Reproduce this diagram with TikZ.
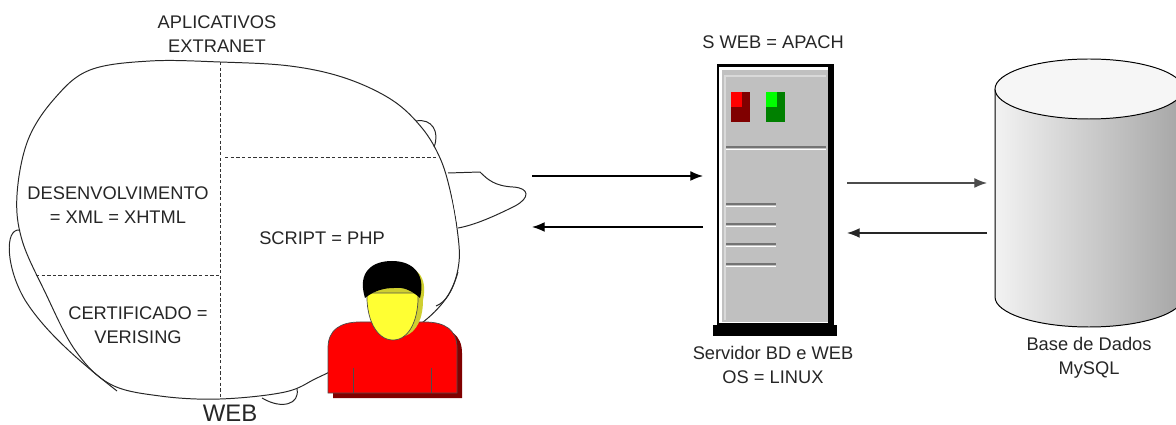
\documentclass[tikz,border=0pt]{standalone}
\usepackage{fontspec}
\setmainfont{Liberation Sans}
\usetikzlibrary{arrows.meta}

\definecolor{shirt}{HTML}{FF0000}
\definecolor{shirtdark}{HTML}{800000}
\definecolor{skin}{HTML}{FFFF33}
\definecolor{skindark}{HTML}{CFCF30}
\definecolor{case}{HTML}{C0C0C0}
\definecolor{ledred}{HTML}{FF0000}
\definecolor{leddarkred}{HTML}{800000}
\definecolor{ledgreen}{HTML}{00FF00}
\definecolor{leddarkgreen}{HTML}{008000}

\tikzset{
  headline/.style={draw=black!85, line width=0.7pt},
  divider/.style={draw=black!80, line width=0.7pt, dash pattern=on 2.4pt off 1.6pt},
  txt/.style={font=\fontsize{13}{17}\selectfont, align=center, inner sep=0pt, text=black!85},
  flow/.style={-{Latex[length=9pt,width=7pt]}, line width=0.9pt},
  vent/.style={line width=1pt, draw=black!55},
}

\begin{document}
\begin{tikzpicture}[x=0.025cm, y=-0.025cm]
  \useasboundingbox (0,0) rectangle (1176,425);

  % head seen from above
  \draw[headline, fill=white] plot[smooth cycle, tension=0.6] coordinates {
    (90,70) (150,61) (220,62) (290,66) (345,78) (392,100) (422,128)
    (440,158) (450,190) (457,228) (459,262) (450,292) (428,318)
    (395,340) (350,362) (317,378) (285,392) (220,399) (160,396)
    (110,384) (75,350) (45,292) (22,240) (17,195) (28,140) (55,98)};
  % ears and nose
  \draw[headline] (20,230) .. controls (4,228) and (6,268) .. (25,300)
    .. controls (45,332) and (80,362) .. (117,391);
  \draw[headline] (416,121) .. controls (432,118) and (440,132) .. (434,147);
  \draw[headline] (458,272) .. controls (452,292) and (446,302) .. (436,306);
  \draw[headline] (262,398) .. controls (282,410) and (300,404) .. (297,389);
  \draw[headline, fill=white] (448,173) -- (480,172) .. controls (488,180) and (495,186) .. (513,187)
    .. controls (530,188) and (530,198) .. (515,206)
    .. controls (495,216) and (475,225) .. (458,228);

  % regions
  \draw[divider] (220,62) -- (220,399);
  \draw[divider] (225,157) -- (436,157);
  \draw[divider] (36,275) -- (220,275);

  \node[txt] (apps) at (217,34) {APLICATIVOS\\EXTRANET};
  \node[txt] (devel) at (118,205) {DESENVOLVIMENTO\\= XML = XHTML};
  \node[txt] (script) at (322,238) {SCRIPT = PHP};
  \node[txt] (cert) at (138,325) {CERTIFICADO =\\VERISING};
  \node[txt, font=\fontsize{17}{20}\selectfont] (web) at (230,413) {WEB};

  % user
  \fill[shirtdark] (333,398) -- (333,353) .. controls (333,335) and (345,327) .. (365,327)
    -- (430,327) .. controls (450,327) and (462,335) .. (462,353) -- (462,398) -- cycle;
  \filldraw[fill=shirt, draw=black!70, line width=0.5pt] (328,393) -- (328,348)
    .. controls (328,330) and (340,322) .. (360,322)
    -- (425,322) .. controls (445,322) and (457,330) .. (457,348) -- (457,393) -- cycle;
  \draw[black!70, line width=0.5pt] (353,368) -- (353,393);
  \draw[black!70, line width=0.5pt] (431,368) -- (431,393);
  \fill[skindark] (372,290) .. controls (365,268) and (378,265) .. (397,265)
    .. controls (417,265) and (428,277) .. (423,300)
    .. controls (423,318) and (417,332) .. (405,336) -- cycle;
  \filldraw[fill=skin, draw=black!70, line width=0.5pt] (367,293)
    .. controls (366,318) and (376,340) .. (393,340)
    .. controls (410,340) and (419,318) .. (418,293) -- cycle;
  \fill[black] (365,298) .. controls (357,272) and (372,261) .. (392,261)
    .. controls (413,261) and (426,274) .. (420,298)
    .. controls (410,289) and (402,287) .. (394,288)
    .. controls (385,288) and (375,290) .. (365,298) -- cycle;

  % server
  \fill[black] (713,325) rectangle (837,336);
  \fill[black] (717,64) rectangle (834,325);
  \fill[white] (719,67) rectangle (828,323);
  \fill[case] (722,70) rectangle (828,322);
  \fill[case!60!white] (724,75) rectangle (826,320);
  \fill[case] (726,77) rectangle (826,320);
  \fill[leddarkred] (731,92) rectangle (750,122);
  \fill[ledred] (731,92) rectangle (742,107);
  \fill[leddarkgreen] (766,92) rectangle (785,122);
  \fill[ledgreen] (766,92) rectangle (777,107);
  \draw[vent] (726,147) -- (826,147);
  \draw[white, line width=1pt] (726,149.5) -- (826,149.5);
  \foreach \y in {204,224,244,264} {
    \draw[vent] (726,\y) -- (776,\y);
    \draw[white, line width=1pt] (726,\y+2.5) -- (776,\y+2.5);
  }
  \node[txt] (apach) at (773,42) {S WEB = APACH};
  \node[txt] (srvlbl) at (773,365) {Servidor BD e WEB\\OS = LINUX};

  % database
  \shade[left color=gray!10, right color=gray!70] (995,89) -- (995,297)
    arc[start angle=180, end angle=0, x radius=94, y radius=30] -- (1183,89)
    arc[start angle=0, end angle=180, x radius=94, y radius=30] -- cycle;
  \draw[line width=0.7pt] (995,89) -- (995,297)
    arc[start angle=180, end angle=0, x radius=94, y radius=30] -- (1183,89);
  \filldraw[fill=gray!7, line width=0.7pt] (1089,89) ellipse[x radius=94, y radius=30];
  \node[txt] (dblbl) at (1089,358) {Base de Dados\\MySQL};

  % requests and replies
  \coordinate (w1) at (532,176);
  \coordinate (s1) at (703,176);
  \coordinate (s2) at (703,227);
  \coordinate (w2) at (532,227);
  \coordinate (s3) at (847,183);
  \coordinate (d1) at (987,183);
  \coordinate (d2) at (987,233);
  \coordinate (s4) at (847,233);
  \draw[flow] (w1) -- (s1);
  \draw[flow] (s2) -- (w2);
  \draw[flow, black!70] (s3) -- (d1);
  \draw[flow, black!85] (d2) -- (s4);
\end{tikzpicture}
\end{document}
